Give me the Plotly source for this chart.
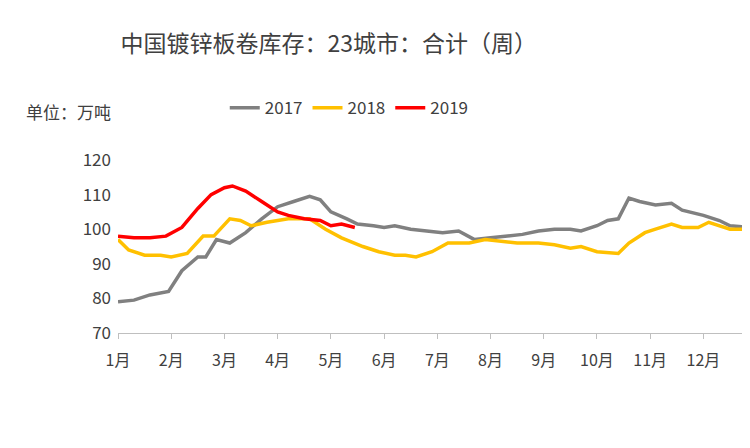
import plotly.graph_objects as go

# x in months: 0 = 1月 ... 11 = 12月
x_2017 = [0, 0.3, 0.6, 0.95, 1.2, 1.5, 1.65, 1.85, 2.1, 2.4, 2.7, 3.0, 3.3, 3.6, 3.8, 4.0, 4.3, 4.5, 4.8, 5.0,
          5.2, 5.5, 5.8, 6.1, 6.4, 6.7, 7.0, 7.3, 7.6, 7.9, 8.2, 8.5, 8.7, 9.0, 9.2, 9.4, 9.6, 9.8, 10.1, 10.4,
          10.6, 11.0, 11.3, 11.5, 11.9]
y_2017 = [79, 79.5, 81, 82, 88, 92, 92, 97, 96, 99, 103, 106.5, 108, 109.5, 108.5, 105, 103, 101.5, 101, 100.5,
          101, 100, 99.5, 99, 99.5, 97, 97.5, 98, 98.5, 99.5, 100, 100, 99.5, 101, 102.5, 103, 109, 108, 107, 107.5,
          105.5, 104, 102.5, 101, 100.5]
x_2018 = [0, 0.2, 0.5, 0.8, 1.0, 1.3, 1.6, 1.8, 2.1, 2.3, 2.5, 2.8, 3.2, 3.6, 3.9, 4.2, 4.6, 4.9, 5.2, 5.4,
          5.6, 5.9, 6.2, 6.6, 6.9, 7.2, 7.5, 7.9, 8.2, 8.5, 8.7, 9.0, 9.4, 9.6, 9.9, 10.1, 10.4, 10.6, 10.9, 11.1,
          11.3, 11.5, 11.9]
y_2018 = [97, 94, 92.5, 92.5, 92, 93, 98, 98, 103, 102.5, 101, 102, 103, 103, 100, 97.5, 95, 93.5, 92.5, 92.5,
          92, 93.5, 96, 96, 97, 96.5, 96, 96, 95.5, 94.5, 95, 93.5, 93, 96, 99, 100, 101.5, 100.5, 100.5, 102,
          101, 100, 100]
x_2019 = [0, 0.3, 0.6, 0.9, 1.2, 1.5, 1.75, 2.0, 2.15, 2.4, 2.7, 3.0, 3.2, 3.5, 3.8, 4.0, 4.2, 4.45]
y_2019 = [98, 97.5, 97.5, 98, 100.5, 106, 110, 112, 112.5, 111, 108, 105, 104, 103, 102.5, 101, 101.5, 100.5]

month_vals = list(range(12))
month_text = [f"{m}月" for m in range(1, 13)]

fig = go.Figure()
for name, xs, ys, color in [("2017", x_2017, y_2017, "#808080"),
                            ("2018", x_2018, y_2018, "#FFC000"),
                            ("2019", x_2019, y_2019, "#FF0000")]:
    fig.add_trace(go.Scatter(x=xs, y=ys, name=name, mode="lines",
                             line=dict(color=color, width=3.5)))

fig.update_layout(
    width=750, height=448,
    paper_bgcolor="white", plot_bgcolor="white",
    font=dict(family="Noto Sans CJK SC", size=16, color="#404040"),
    title=dict(text="中国镀锌板卷库存：23城市：合计（周）", x=0.15, xanchor="left", y=0.92,
               yanchor="middle", font=dict(size=23, color="#404040")),
    margin=dict(l=110, r=12, t=152, b=123),
    showlegend=True,
    legend=dict(orientation="h", x=0.17, y=1.3, xanchor="left", yanchor="middle",
                font=dict(size=17), traceorder="normal"),
    annotations=[dict(text="单位：万吨", xref="paper", yref="paper", x=-0.15, y=1.28,
                      xanchor="left", yanchor="middle", showarrow=False, font=dict(size=17))],
    xaxis=dict(range=[0, 11.8], tickvals=month_vals, ticktext=month_text, showgrid=False,
               showline=True, linecolor="#bfbfbf", ticks="outside", tickcolor="#bfbfbf", ticklen=5,
               tickfont=dict(size=16), automargin=False, ticklabelstandoff=8),
    yaxis=dict(range=[70, 120], dtick=10, showgrid=False, showline=False, zeroline=False,
               tickfont=dict(size=17), automargin=False, ticklabelstandoff=6),
)

fig.write_html("out.html")
